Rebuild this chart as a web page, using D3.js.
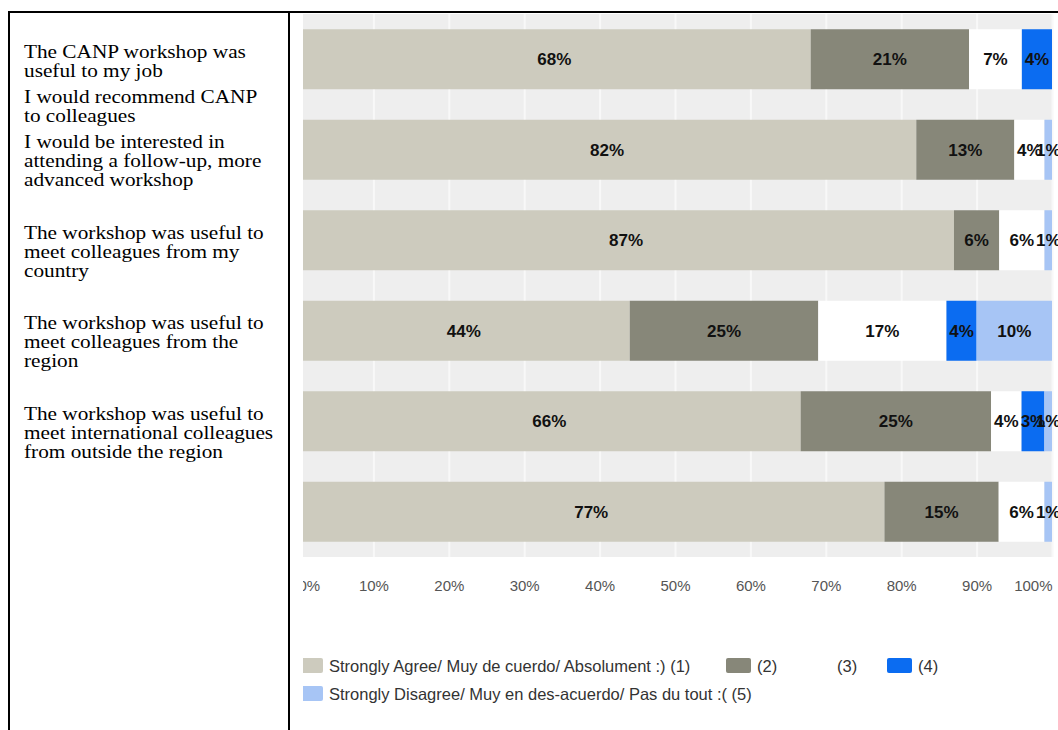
<!DOCTYPE html>
<html>
<head>
<meta charset="utf-8">
<script src="https://cdn.jsdelivr.net/npm/d3@7"></script>
<style>
  body { margin: 0; background: #fff; }
  svg { display: block; }
</style>
</head>
<body>
<svg id="chart" width="1058" height="730"></svg>
<script>
// Survey statements (one entry per bar, pre-wrapped into lines)
const statements = [
  ["The CANP workshop was", "useful to my job"],
  ["I would recommend CANP", "to colleagues"],
  ["I would be interested in", "attending a follow-up, more", "advanced workshop"],
  ["The workshop was useful to", "meet colleagues from my", "country"],
  ["The workshop was useful to", "meet colleagues from the", "region"],
  ["The workshop was useful to", "meet international colleagues", "from outside the region"]
];

// Share of answers per response level, in percent
const stronglyAgree    = [68, 82, 87, 44, 66, 77];
const agree            = [21, 13, 6, 25, 25, 15];
const neutral          = [7, 4, 6, 17, 4, 6];
const disagree         = [4, 0, 0, 4, 3, 0];
const stronglyDisagree = [0, 1, 1, 10, 1, 1];

const responseKeys   = ["r1", "r2", "r3", "r4", "r5"];
const responseLabels = [
  "Strongly Agree/ Muy de cuerdo/ Absolument :) (1)",
  "(2)",
  "(3)",
  "(4)",
  "Strongly Disagree/ Muy en des-acuerdo/ Pas du tout :( (5)"
];
const responseColors = ["#cdcbbe", "#878779", "#ffffff", "#0b6cf1", "#a7c5f5"];

const xTicks = [0, 10, 20, 30, 40, 50, 60, 70, 80, 90, 100];

// Build rows for d3.stack
const rows = statements.map((s, i) => ({
  idx: i,
  r1: stronglyAgree[i],
  r2: agree[i],
  r3: neutral[i],
  r4: disagree[i],
  r5: stronglyDisagree[i]
}));

const svg = d3.select("#chart");
const W = 1058, H = 730;

// ---- frame ----
const frame = svg.append("g").attr("stroke", "#000").attr("stroke-width", 2);
frame.append("line").attr("x1", 9).attr("x2", W).attr("y1", 12).attr("y2", 12);
frame.append("line").attr("x1", 9).attr("x2", 9).attr("y1", 11).attr("y2", H);
frame.append("line").attr("x1", 289).attr("x2", 289).attr("y1", 11).attr("y2", H);

// ---- statement text on the left (slightly widened serif type) ----
const textX = 24, lineH = 19, slot = 45.3, firstBaseline = 57.5, textStretch = 1.15;
let slotIndex = 0;
const leftText = svg.append("g")
  .attr("font-family", "'Liberation Serif', 'Times New Roman', serif")
  .attr("font-size", 18.5)
  .attr("fill", "#000");
statements.forEach(lines => {
  const y0 = firstBaseline + slotIndex * slot;
  lines.forEach((ln, j) => {
    leftText.append("text")
      .attr("transform", `translate(${textX},${y0 + j * lineH}) scale(${textStretch},1)`)
      .text(ln);
  });
  slotIndex += lines.length > 2 ? 2 : 1;
});

// ---- chart ----
const plotLeft = 298, plotRight = 1052, plotTop = 14, plotBottom = 557;

svg.append("defs").append("clipPath").attr("id", "chartClip")
  .append("rect").attr("x", 303).attr("y", 13).attr("width", W - 303).attr("height", H - 13);

const chart = svg.append("g").attr("clip-path", "url(#chartClip)");

const x = d3.scaleLinear().domain([0, 100]).range([plotLeft, plotRight]);
const y = d3.scaleBand()
  .domain(rows.map(d => d.idx))
  .range([plotTop, plotBottom])
  .paddingInner(0.337)
  .paddingOuter(0.337 / 2);

// plot background
chart.append("rect")
  .attr("x", x(0)).attr("y", plotTop)
  .attr("width", x(100) - x(0)).attr("height", plotBottom - plotTop)
  .attr("fill", "#eeeeee");

// vertical gridlines
const grid = chart.append("g")
  .attr("transform", `translate(0,${plotBottom})`)
  .call(d3.axisBottom(x).tickValues(xTicks).tickSize(-(plotBottom - plotTop)).tickFormat(""));
grid.select(".domain").remove();
grid.selectAll(".tick line").attr("stroke", "#f8f8f8").attr("stroke-width", 2);

// stacked bars, normalised to 100%
const stack = d3.stack().keys(responseKeys).offset(d3.stackOffsetExpand);
const series = stack(rows);
const color = d3.scaleOrdinal().domain(responseKeys).range(responseColors);
const xp = v => x(v * 100);

const layers = chart.append("g").selectAll("g")
  .data(series)
  .join("g")
  .attr("fill", d => color(d.key));

layers.selectAll("rect")
  .data(d => d.map(s => ({ s, key: d.key })))
  .join("rect")
  .attr("x", d => xp(d.s[0]))
  .attr("y", d => y(d.s.data.idx))
  .attr("width", d => xp(d.s[1]) - xp(d.s[0]))
  .attr("height", y.bandwidth());

// value labels centred in each segment
const labels = chart.append("g")
  .attr("font-family", "'Liberation Sans', Arial, sans-serif")
  .attr("font-weight", "bold")
  .attr("font-size", 17)
  .attr("fill", "#111")
  .attr("text-anchor", "middle");

series.forEach(layer => {
  layer.forEach(s => {
    const v = s.data[layer.key];
    if (!v) return;
    labels.append("text")
      .attr("x", (xp(s[0]) + xp(s[1])) / 2)
      .attr("y", y(s.data.idx) + y.bandwidth() / 2)
      .attr("dy", "0.36em")
      .text(v + "%");
  });
});

// x axis labels; the outermost labels are kept inside the plot width
const axis = chart.append("g")
  .attr("transform", `translate(0,${plotBottom})`)
  .call(d3.axisBottom(x).tickValues(xTicks).tickSize(0).tickPadding(23).tickFormat(d => d + "%"));
axis.select(".domain").remove();
axis.selectAll("text")
  .attr("font-family", "'Liberation Sans', Arial, sans-serif")
  .attr("font-size", 15)
  .attr("fill", "#555")
  .attr("text-anchor", d => d === 0 ? "start" : d === 100 ? "end" : "middle");

// ---- legend ----
const legendItems = [
  { key: "r1", label: responseLabels[0], x: 298, row: 0 },
  { key: "r2", label: responseLabels[1], x: 726, row: 0 },
  { key: "r3", label: responseLabels[2], x: 806, row: 0 },
  { key: "r4", label: responseLabels[3], x: 887, row: 0 },
  { key: "r5", label: responseLabels[4], x: 298, row: 1 }
];
const rowY = [666, 694];
const legend = chart.append("g")
  .attr("font-family", "'Liberation Sans', Arial, sans-serif")
  .attr("font-size", 16.5)
  .attr("fill", "#333");
const li = legend.selectAll("g").data(legendItems).join("g")
  .attr("transform", d => `translate(${d.x},${rowY[d.row]})`);
li.append("rect")
  .attr("x", 0).attr("y", -8).attr("width", 25).attr("height", 15).attr("rx", 2)
  .attr("fill", d => color(d.key));
li.append("text")
  .attr("x", 31).attr("dy", "0.35em")
  .text(d => d.label);
</script>
</body>
</html>
